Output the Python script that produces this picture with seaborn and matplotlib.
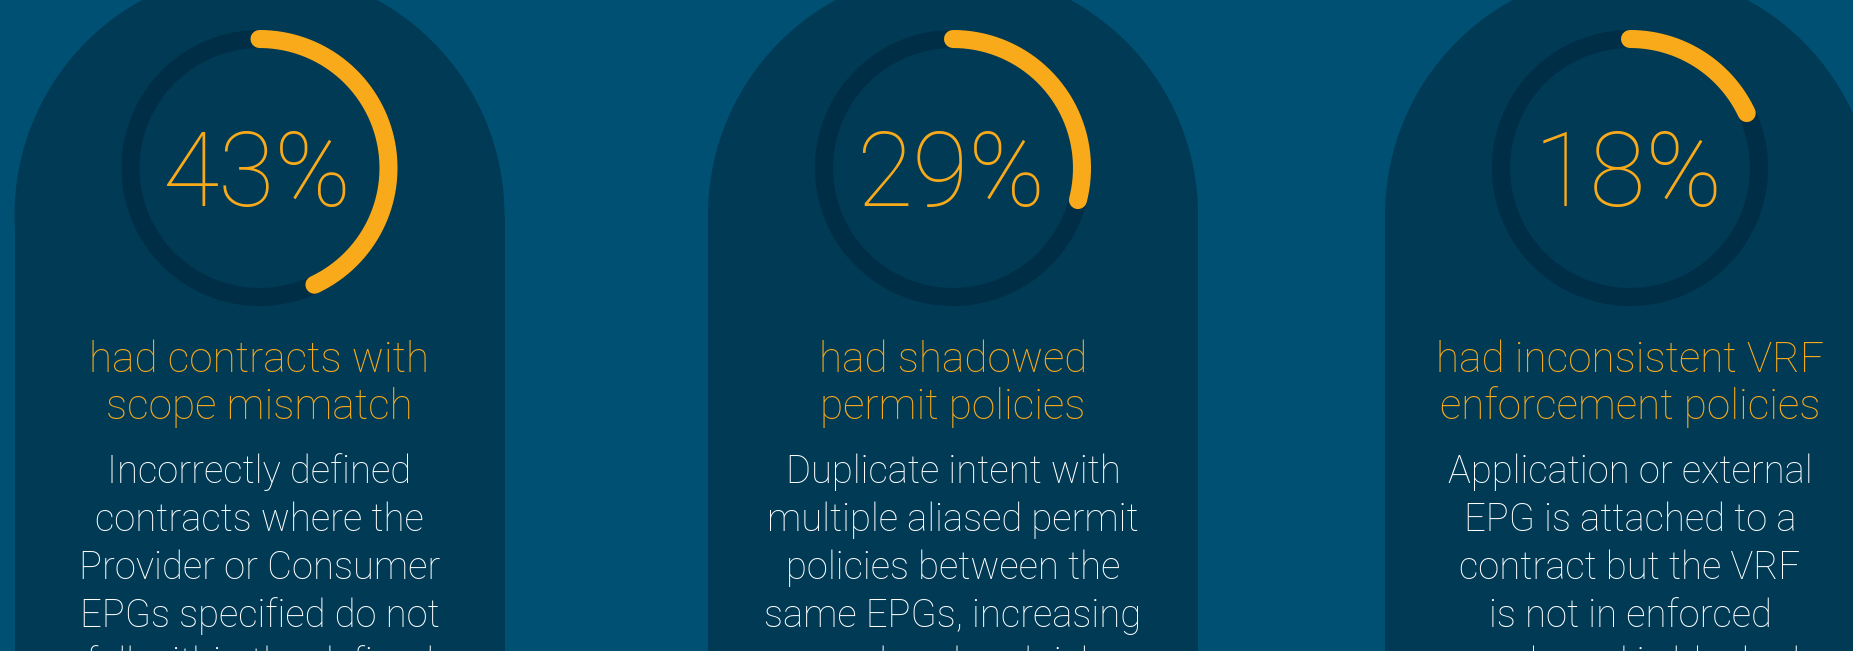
import numpy as np
import pandas as pd
import matplotlib
matplotlib.use("Agg")
import matplotlib.pyplot as plt
import matplotlib.patches as mpatches
import seaborn as sns

# values
percents = [43, 29, 18]
pct_labels = ["43%", "29%", "18%"]
titles = [
    ["had contracts with", "scope mismatch"],
    ["had shadowed", "permit policies"],
    ["had inconsistent VRF", "enforcement policies"],
]
descriptions = [
    ["Incorrectly defined", "contracts where the", "Provider or Consumer",
     "EPGs specified do not", "fall within the defined"],
    ["Duplicate intent with", "multiple aliased permit", "policies between the",
     "same EPGs, increasing", "overhead and risk"],
    ["Application or external", "EPG is attached to a", "contract but the VRF",
     "is not in enforced", "mode and is blocked"],
]

BG = "#005073"
PANEL = "#003a55"
TRACK = "#002e46"
ORANGE = "#f9aa1b"
WHITE = "#ffffff"

sns.set_theme(style="white")
plt.rcParams["font.family"] = ["Roboto", "DejaVu Sans"]

W, H = 1853, 651
fig = plt.figure(figsize=(W / 100, H / 100), dpi=100, facecolor=BG)
ax = fig.add_axes([0, 0, 1, 1])
ax.set_facecolor(BG)
ax.set_xlim(0, W)
ax.set_ylim(H, 0)
ax.set_aspect("equal")
ax.axis("off")

centers_x = [259.5, 953, 1630]
ring_y = 168
ring_r = 129
arch_y = 215
arch_r = 245
ring_lw = 13

for i, cx in enumerate(centers_x):
    # arched panel
    ax.add_patch(mpatches.Circle((cx, arch_y), arch_r, color=PANEL, lw=0, zorder=1))
    ax.add_patch(mpatches.Rectangle((cx - arch_r, arch_y), 2 * arch_r, H, color=PANEL, lw=0, zorder=1))

    # ring track
    t = np.linspace(0, 2 * np.pi, 400)
    ax.plot(cx + ring_r * np.sin(t), ring_y - ring_r * np.cos(t), color=TRACK, lw=ring_lw, zorder=2)

    # progress arc, clockwise from 12 o'clock
    t = np.linspace(0, percents[i] / 100 * 2 * np.pi, 200)
    arc = pd.DataFrame({"x": cx + ring_r * np.sin(t), "y": ring_y - ring_r * np.cos(t)})
    sns.lineplot(data=arc, x="x", y="y", sort=False, estimator=None, ax=ax,
                 color=ORANGE, lw=ring_lw, solid_capstyle="round", zorder=3)

    ax.text(cx - 2, 206, pct_labels[i], color=ORANGE, fontsize=74, fontweight=100,
            ha="center", va="baseline", zorder=4)

    for j, line in enumerate(titles[i]):
        ax.text(cx, 372 + 47 * j, line, color=ORANGE, fontsize=30.5, fontweight="light",
                ha="center", va="baseline", zorder=4)

    for j, line in enumerate(descriptions[i]):
        ax.text(cx, 483 + 48 * j, line, color=WHITE, fontsize=27.5, fontweight="light",
                ha="center", va="baseline", zorder=4)

ax.set_xlabel("")
ax.set_ylabel("")
fig.savefig("out.png", dpi=100, facecolor=BG)
